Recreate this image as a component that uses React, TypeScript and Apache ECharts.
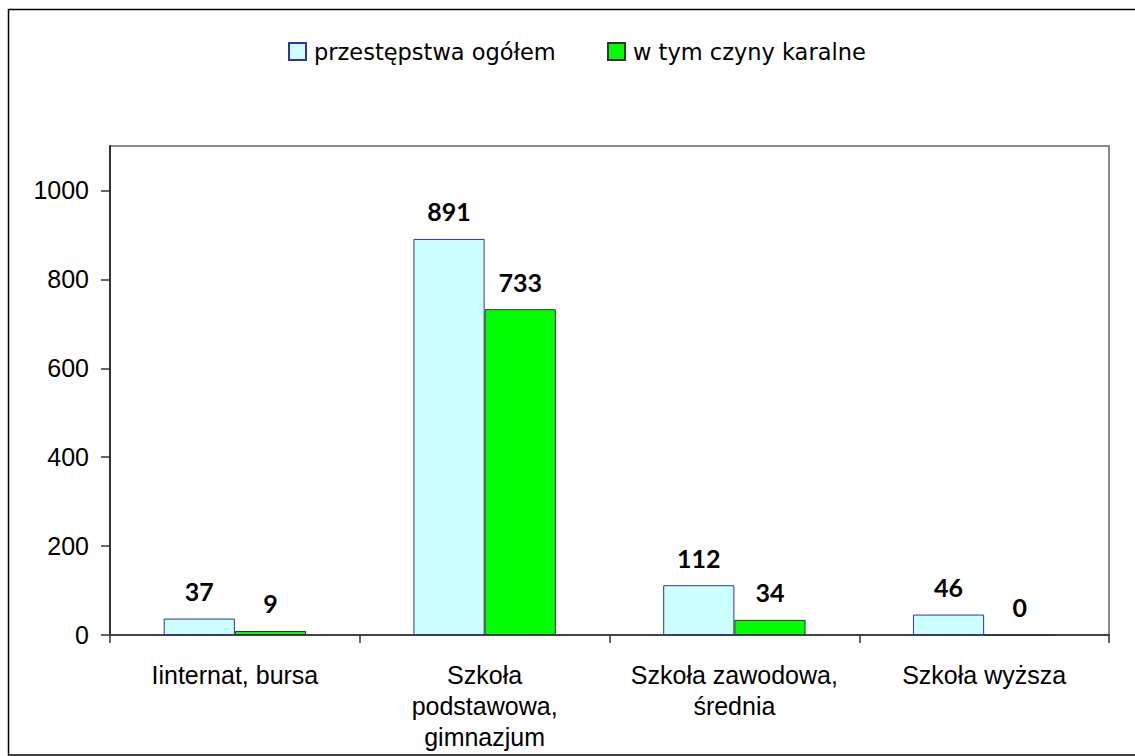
import React, { useEffect, useRef } from "react";
import * as echarts from "echarts";

const categories = [
  "Iinternat, bursa",
  "Szkoła\npodstawowa,\ngimnazjum",
  "Szkoła zawodowa,\nśrednia",
  "Szkoła wyższa",
];
const seriesNames = ["przestępstwa ogółem", "w tym czyny karalne"];
const totalValues = [37, 891, 112, 46];
const punishableValues = [9, 733, 34, 0];
const yTicks = [0, 200, 400, 600, 800, 1000];
const yMax = 1100;

export default function App() {
  const ref = useRef<HTMLDivElement>(null);
  useEffect(() => {
    if (!ref.current) return;
    const chart = echarts.init(ref.current, null, { renderer: "svg" });
    const labelStyle = {
      show: true,
      position: "top" as const,
      distance: 15,
      fontFamily: "Lato",
      fontWeight: "bold" as const,
      fontSize: 25,
      color: "#000",
    };
    const legendText = {
      fontFamily: "DejaVu Sans",
      fontSize: 22.5,
      color: "#000",
      padding: [0, 0, 0, 3],
    };
    chart.setOption({
      animation: false,
      backgroundColor: "#fff",
      graphic: [
        {
          type: "rect",
          shape: { x: 8.5, y: 9.5, width: 1300, height: 745.5 },
          style: { fill: "none", stroke: "#000", lineWidth: 1.5 },
          silent: true,
          z: 100,
        },
      ],
      legend: [
        {
          data: [seriesNames[0]],
          left: 288,
          top: 40,
          padding: 0,
          icon: "rect",
          itemWidth: 17,
          itemHeight: 17,
          textStyle: legendText,
        },
        {
          data: [seriesNames[1]],
          left: 607,
          top: 40,
          padding: 0,
          icon: "rect",
          itemWidth: 17,
          itemHeight: 17,
          textStyle: legendText,
        },
      ],
      grid: {
        left: 110,
        top: 146,
        right: 26,
        bottom: 121,
        show: true,
        borderColor: "#888",
        borderWidth: 2,
        backgroundColor: "#fff",
      },
      xAxis: {
        type: "category",
        data: categories,
        axisLine: { show: true, lineStyle: { color: "#444", width: 2 } },
        axisTick: {
          show: true,
          length: 8,
          lineStyle: { color: "#333", width: 1.5 },
        },
        axisLabel: {
          fontFamily: "Liberation Sans",
          fontSize: 25,
          color: "#000",
          lineHeight: 31,
          margin: 24,
          interval: 0,
        },
        splitLine: { show: false },
      },
      yAxis: {
        type: "value",
        min: 0,
        max: yMax,
        interval: 200,
        axisLine: { show: true, lineStyle: { color: "#333", width: 2 } },
        axisTick: {
          show: true,
          length: 9,
          customValues: yTicks,
          lineStyle: { color: "#333", width: 1.5 },
        },
        axisLabel: {
          customValues: yTicks,
          formatter: (v: number) => String(v),
          fontFamily: "Liberation Sans",
          fontSize: 25,
          color: "#000",
          margin: 21,
        },
        splitLine: { show: false },
      },
      series: [
        {
          name: seriesNames[0],
          type: "bar",
          data: totalValues,
          barGap: "0%",
          barCategoryGap: "43%",
          itemStyle: { color: "#CCFFFF", borderColor: "#333399", borderWidth: 1 },
          label: labelStyle,
        },
        {
          name: seriesNames[1],
          type: "bar",
          data: punishableValues,
          barGap: "0%",
          barCategoryGap: "43%",
          itemStyle: { color: "#00FF00", borderColor: "#333", borderWidth: 1 },
          label: labelStyle,
        },
      ],
    });
    return () => chart.dispose();
  }, []);
  return (
    <div
      ref={ref}
      style={{ position: "fixed", left: 0, top: 0, width: 1135, height: 756 }}
    />
  );
}
